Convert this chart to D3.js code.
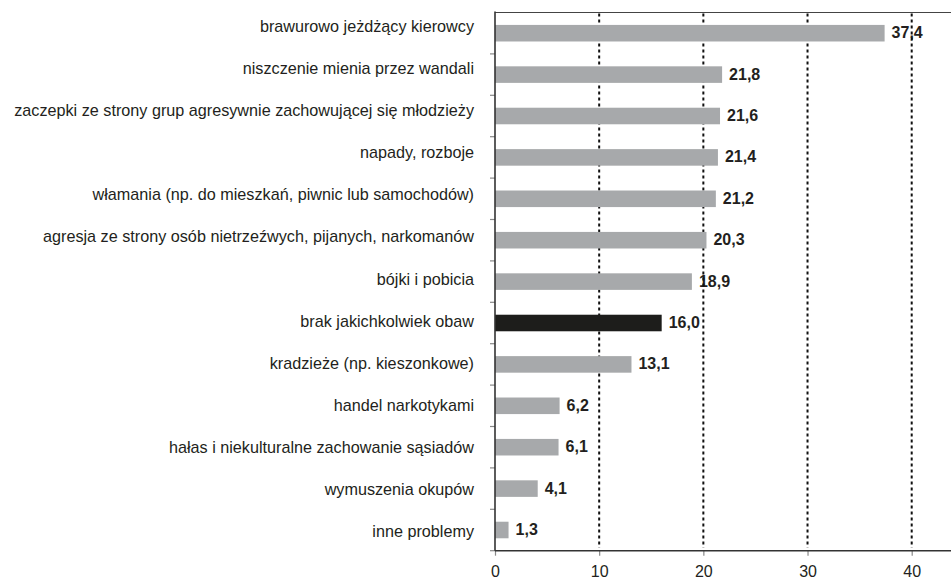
<html>
<head>
<script src="https://d3js.org/d3.v7.min.js"></script>
<style>
  body { margin: 0; background: #fff; }
  text { font-family: "Liberation Sans", Arial, sans-serif; fill: #231f20; }
</style>
</head>
<body>
<script>
// categories top to bottom
var categories = [
    "brawurowo jeżdżący kierowcy",
    "niszczenie mienia przez wandali",
    "zaczepki ze strony grup agresywnie zachowującej się młodzieży",
    "napady, rozboje",
    "włamania (np. do mieszkań, piwnic lub samochodów)",
    "agresja ze strony osób nietrzeźwych, pijanych, narkomanów",
    "bójki i pobicia",
    "brak jakichkolwiek obaw",
    "kradzieże (np. kieszonkowe)",
    "handel narkotykami",
    "hałas i niekulturalne zachowanie sąsiadów",
    "wymuszenia okupów",
    "inne problemy"
];
var values = [37.4, 21.8, 21.6, 21.4, 21.2, 20.3, 18.9, 16.0, 13.1, 6.2, 6.1, 4.1, 1.3];
var highlighted = ["brak jakichkolwiek obaw"];
var xTicks = [0, 10, 20, 30, 40];
var gridTicks = [10, 20, 30, 40];

var W = 951, H = 580;
var plotLeft = 495, plotTop = 12.5, plotBottom = 550.7;

var svg = d3.select("body").append("svg")
    .attr("width", W)
    .attr("height", H);

var x = d3.scaleLinear().domain([0, 40]).range([plotLeft, 911.7]);
var y = d3.scaleBand().domain(categories).range([plotTop, plotBottom])
    .paddingInner(0.6).paddingOuter(0.3);
// the category labels sit on a slightly different spacing than the bars
var yLabel = d3.scalePoint().domain(categories).range([32, 537]);

var fmt = function(v) { return d3.format(".1f")(v).replace(".", ","); };

// category labels
svg.append("g").selectAll("text").data(categories).enter()
    .append("text")
    .attr("x", 474)
    .attr("y", function(d) { return yLabel(d); })
    .attr("text-anchor", "end")
    .style("font-size", "16.2px")
    .text(function(d) { return d; });

// value labels (drawn before the grid, the dots run over them)
svg.append("g").selectAll("text").data(values).enter()
    .append("text")
    .attr("x", function(d) { return x(d) + 7; })
    .attr("y", function(d, i) { return y(categories[i]) + y.bandwidth() / 2 + 5; })
    .style("font-size", "16px")
    .style("font-weight", "bold")
    .text(function(d) { return fmt(d); });

// dotted grid
svg.append("g").selectAll("line").data(gridTicks).enter()
    .append("line")
    .attr("x1", function(d) { return x(d); })
    .attr("x2", function(d) { return x(d); })
    .attr("y1", plotTop + 1)
    .attr("y2", plotBottom - 3)
    .attr("stroke", "#111")
    .attr("stroke-width", 2)
    .attr("stroke-dasharray", "3,3");

// bars
svg.append("g").selectAll("rect").data(values).enter()
    .append("rect")
    .attr("x", x(0))
    .attr("y", function(d, i) { return y(categories[i]); })
    .attr("width", function(d) { return x(d) - x(0); })
    .attr("height", y.bandwidth())
    .attr("fill", function(d, i) {
        return highlighted.indexOf(categories[i]) >= 0 ? "#1d1d1b" : "#a7a9ab";
    });

// top frame line
svg.append("line")
    .attr("x1", plotLeft).attr("x2", W)
    .attr("y1", plotTop).attr("y2", plotTop)
    .attr("stroke", "#444").attr("stroke-width", 1.2);

// y axis with ticks between the bands
var boundaries = categories.map(function(d) { return y(d) - y.step() * y.paddingInner() / 2; }).slice(1);
boundaries.push(plotBottom);
svg.append("g").selectAll("line").data(boundaries).enter()
    .append("line")
    .attr("x1", plotLeft - 5).attr("x2", plotLeft)
    .attr("y1", function(d) { return d; }).attr("y2", function(d) { return d; })
    .attr("stroke", "#888").attr("stroke-width", 1.2);
svg.append("line")
    .attr("x1", plotLeft).attr("x2", plotLeft)
    .attr("y1", plotTop - 1).attr("y2", plotBottom)
    .attr("stroke", "#333").attr("stroke-width", 1.6);

// x axis
var xAxis = svg.append("g")
    .attr("transform", "translate(0," + plotBottom + ")")
    .call(d3.axisBottom(x).tickValues(xTicks).tickSize(5).tickPadding(10).tickFormat(d3.format("d")));
xAxis.select(".domain").remove();
xAxis.selectAll(".tick line").attr("stroke", "#888").attr("stroke-width", 1.2);
xAxis.selectAll(".tick text")
    .style("font-size", "16px")
    .style("font-family", "'Liberation Sans', Arial, sans-serif")
    .attr("fill", "#231f20");
svg.append("line")
    .attr("x1", plotLeft).attr("x2", W)
    .attr("y1", plotBottom).attr("y2", plotBottom)
    .attr("stroke", "#333").attr("stroke-width", 1.6);
</script>
</body>
</html>
